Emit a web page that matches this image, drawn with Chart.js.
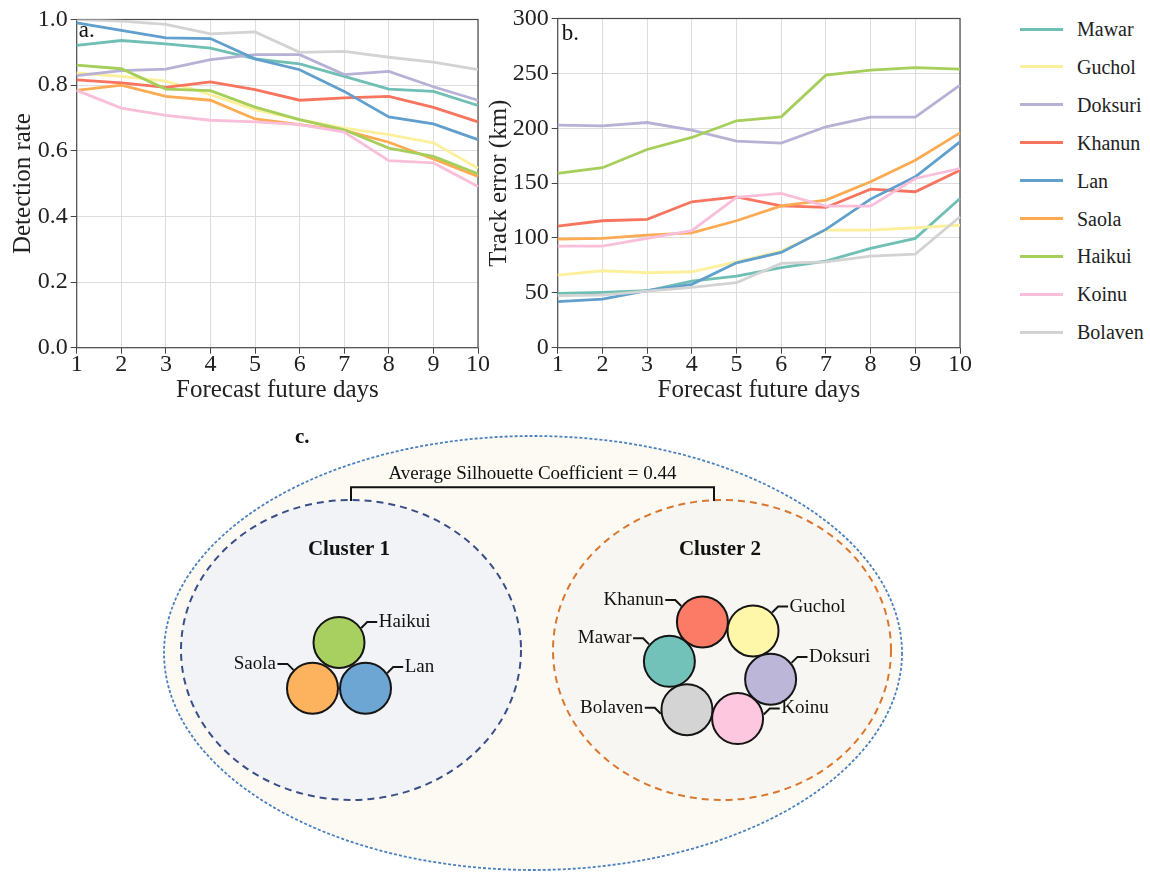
<!DOCTYPE html>
<html>
<head>
<meta charset="utf-8">
<script src="https://cdn.jsdelivr.net/npm/chart.js@4.4.1/dist/chart.umd.min.js"></script>
<style>
  html, body { margin: 0; padding: 0; background: #ffffff; }
  body { width: 1150px; height: 872px; position: relative; overflow: hidden;
         font-family: "Liberation Serif", "Times New Roman", serif; }
  canvas { position: absolute; }
  #legend { position: absolute; left: 1020px; top: 0; width: 130px; height: 360px; }
  .row { position: absolute; left: 0; height: 24px; width: 130px; }
  .row i { position: absolute; left: 0; top: 10.5px; width: 43px; height: 3px; }
  .row span { position: absolute; left: 57px; top: 0; line-height: 24px; font-size: 20px; color: #222; white-space: nowrap; }
</style>
</head>
<body>
<canvas id="rateChart" width="495" height="410" style="left:0;top:0"></canvas>
<canvas id="errChart" width="500" height="410" style="left:480px;top:0"></canvas>
<canvas id="clusterChart" width="780" height="452" style="left:150px;top:420px"></canvas>
<div id="legend"></div>
<script>
// ---- data -------------------------------------------------------------
const days = ['1', '2', '3', '4', '5', '6', '7', '8', '9', '10'];
const typhoons = ['Mawar', 'Guchol', 'Doksuri', 'Khanun', 'Lan', 'Saola', 'Haikui', 'Koinu', 'Bolaven'];

// detection rate per forecast day
const rateMawar   = [0.921, 0.936, 0.926, 0.913, 0.880, 0.865, 0.827, 0.788, 0.781, 0.738];
const rateGuchol  = [0.837, 0.827, 0.812, 0.771, 0.725, 0.695, 0.669, 0.649, 0.624, 0.547];
const rateDoksuri = [0.829, 0.844, 0.849, 0.878, 0.893, 0.893, 0.832, 0.842, 0.795, 0.754];
const rateKhanun  = [0.816, 0.807, 0.793, 0.810, 0.786, 0.754, 0.761, 0.766, 0.732, 0.688];
const rateLan     = [0.990, 0.967, 0.944, 0.942, 0.880, 0.847, 0.781, 0.703, 0.682, 0.634];
const rateSaola   = [0.784, 0.800, 0.766, 0.754, 0.697, 0.680, 0.662, 0.626, 0.575, 0.522];
const rateHaikui  = [0.861, 0.850, 0.788, 0.783, 0.733, 0.695, 0.664, 0.608, 0.583, 0.530];
const rateKoinu   = [0.784, 0.730, 0.708, 0.693, 0.688, 0.680, 0.657, 0.570, 0.563, 0.491];
const rateBolaven = [1.000, 0.995, 0.985, 0.956, 0.962, 0.900, 0.903, 0.885, 0.870, 0.847];

// track error (km) per forecast day
const errMawar   = [49.5, 50.4, 51.9, 60.7, 65.3, 72.9, 78.9, 90.5, 99.6, 136.0];
const errGuchol  = [66.2, 70.1, 68.3, 69.2, 78.3, 88.0, 107.2, 107.2, 109.3, 111.7];
const errDoksuri = [202.8, 202.2, 205.2, 198.3, 188.2, 186.4, 201.3, 210.1, 210.1, 239.2];
const errKhanun  = [110.8, 115.7, 116.9, 133.0, 137.5, 129.3, 127.8, 144.5, 142.1, 161.8];
const errLan     = [41.9, 44.3, 51.9, 57.7, 77.4, 86.8, 107.8, 135.4, 155.7, 187.6];
const errSaola   = [99.0, 99.6, 102.6, 104.7, 115.7, 129.3, 134.5, 151.2, 170.9, 195.8];
const errHaikui  = [158.8, 164.0, 180.6, 191.6, 206.8, 210.4, 248.4, 252.9, 255.3, 253.8];
const errKoinu   = [92.6, 92.6, 99.6, 106.6, 136.9, 140.6, 129.0, 129.0, 154.2, 163.3];
const errBolaven = [47.4, 48.0, 51.6, 55.0, 59.2, 76.8, 78.3, 83.5, 85.3, 119.3];

const rateTicks = [0, 0.2, 0.4, 0.6, 0.8, 1.0];
const errTicks = [0, 50, 100, 150, 200, 250, 300];

// clustering result
const cluster1 = ['Haikui', 'Lan', 'Saola'];
const cluster2 = ['Khanun', 'Guchol', 'Doksuri', 'Koinu', 'Bolaven', 'Mawar'];
const silhouette = 0.44;

// ---- styles -----------------------------------------------------------
const FONT = '"Liberation Serif", "Times New Roman", serif';
const colors = {
  Mawar: '#6fbfb4', Guchol: '#fdf09c', Doksuri: '#b6b1d5', Khanun: '#f7745f', Lan: '#619fcd',
  Saola: '#fdab52', Haikui: '#a5ce5b', Koinu: '#f9bfda', Bolaven: '#d3d3d3'
};
const circleFill = {
  Mawar: '#73c2b9', Guchol: '#fef6a8', Doksuri: '#bcb7d9', Khanun: '#fb7b67', Lan: '#6ea6d3',
  Saola: '#fdb25d', Haikui: '#a7d060', Koinu: '#fcc7df', Bolaven: '#d4d4d4'
};

const rateSeries = [rateMawar, rateGuchol, rateDoksuri, rateKhanun, rateLan, rateSaola, rateHaikui, rateKoinu, rateBolaven];
const errSeries = [errMawar, errGuchol, errDoksuri, errKhanun, errLan, errSaola, errHaikui, errKoinu, errBolaven];

// ---- legend ------------------------------------------------------------
const legend = document.getElementById('legend');
typhoons.forEach((name, k) => {
  const row = document.createElement('div');
  row.className = 'row';
  row.style.top = (29 + 37.9 * k - 12) + 'px';
  const sw = document.createElement('i');
  sw.style.background = colors[name];
  const tx = document.createElement('span');
  tx.textContent = name;
  row.appendChild(sw); row.appendChild(tx);
  legend.appendChild(row);
});

// ---- line panels -------------------------------------------------------
const framePlugin = {
  id: 'frame',
  beforeDatasetsDraw(chart) {
    const { ctx, chartArea: a } = chart;
    ctx.save();
    ctx.strokeStyle = '#4a4a4a';
    ctx.lineWidth = 1.2;
    ctx.strokeRect(a.left, a.top, a.right - a.left, a.bottom - a.top);
    ctx.restore();
  },
  afterDatasetsDraw(chart, args, opts) {
    const { ctx, chartArea: a } = chart;
    ctx.save();
    ctx.fillStyle = '#111';
    ctx.font = '23px ' + FONT;
    ctx.textBaseline = 'alphabetic';
    ctx.fillText(opts.letter, a.left + opts.dx, a.top + opts.dy);
    ctx.restore();
  }
};

function makeLineChart(id, series, ticks, yTitle, letter, geo) {
  const datasets = typhoons.map((name, i) => ({
    label: name,
    data: series[i],
    borderColor: colors[name],
    backgroundColor: colors[name],
    borderWidth: 2.8,
    pointRadius: 0,
    tension: 0,
    order: typhoons.length - i
  }));
  return new Chart(document.getElementById(id), {
    type: 'line',
    data: { labels: days, datasets },
    plugins: [framePlugin],
    options: {
      responsive: false,
      animation: false,
      devicePixelRatio: 1,
      events: [],
      layout: { padding: { top: geo.top, right: geo.right, left: 0, bottom: 0 } },
      plugins: {
        legend: { display: false },
        tooltip: { enabled: false },
        frame: { letter, dx: geo.ldx, dy: geo.ldy }
      },
      scales: {
        x: {
          type: 'category',
          offset: false,
          grid: { color: '#dedede', lineWidth: 1, tickColor: '#444', tickLength: 6 },
          border: { display: false },
          ticks: { color: '#222', font: { family: FONT, size: 24, lineHeight: 1 }, padding: -1, maxRotation: 0, autoSkip: false },
          title: { display: true, text: 'Forecast future days', color: '#222',
                   font: { family: FONT, size: 25, lineHeight: 1.2 }, padding: { top: 0, bottom: 5 } },
          afterFit(s) { s.height = geo.xh; }
        },
        y: {
          min: ticks[0],
          max: ticks[ticks.length - 1],
          afterBuildTicks(s) { s.ticks = ticks.map(v => ({ value: v })); },
          grid: { color: '#dedede', lineWidth: 1, tickColor: '#444', tickLength: 6 },
          border: { display: false },
          ticks: { color: '#222', font: { family: FONT, size: 24, lineHeight: 1 }, padding: 3,
                   callback: v => geo.dec ? Number(v).toFixed(geo.dec) : String(v) },
          title: { display: true, text: yTitle, color: '#222',
                   font: { family: FONT, size: 25, lineHeight: 1.2 }, padding: { top: geo.tpad, bottom: 0 } },
          afterFit(s) { s.width = geo.yw; }
        }
      }
    }
  });
}

makeLineChart('rateChart', rateSeries, rateTicks, 'Detection rate', 'a.',
  { top: 19.5, right: 17, xh: 62.3, yw: 76.7, tpad: 8, dec: 1, ldx: 2, ldy: 17 });
makeLineChart('errChart', errSeries, errTicks, 'Track error (km)', 'b.',
  { top: 18.5, right: 20, xh: 62.3, yw: 77.7, tpad: 4, dec: 0, ldx: 4, ldy: 21 });

// ---- cluster diagram ----------------------------------------------------
const outerShape = { cx: 533, cy: 653, rx: 369, ry: 217 };
const groups = [
  { members: cluster1, title: 'Cluster 1', cx: 351, cy: 650, rx: 170, ry: 150,
    stroke: '#3a4e88', fill: '#f1f3f7', ringX: 339, ringY: 673, ringR: 30.6, start: -90, titleY: 548 },
  { members: cluster2, title: 'Cluster 2', cx: 722, cy: 650, rx: 169, ry: 150,
    stroke: '#d9772e', fill: '#f7f6f3', ringX: 720, ringY: 670.3, ringR: 51.4, start: -110, titleY: 548 }
];
// direction (deg) where each label's leader leaves its circle
const leaderAngle = { Haikui: -33, Lan: -35, Saola: -136, Khanun: -143, Guchol: -44,
                      Mawar: -140, Doksuri: -38, Bolaven: 171, Koinu: -9 };
const BUBBLE_R = 25.5;

const bubbleSets = groups.map(g => {
  const step = 360 / g.members.length;
  return {
    data: g.members.map((name, i) => {
      const t = (g.start + i * step) * Math.PI / 180;
      return { x: g.ringX + g.ringR * Math.cos(t), y: g.ringY + g.ringR * Math.sin(t), r: BUBBLE_R, name };
    }),
    backgroundColor: g.members.map(n => circleFill[n]),
    borderColor: '#151515',
    borderWidth: 2
  };
});

function ellipse(ctx, cx, cy, rx, ry) {
  ctx.beginPath();
  ctx.ellipse(cx, cy, rx, ry, 0, 0, Math.PI * 2);
}

const diagramPlugin = {
  id: 'diagram',
  beforeDatasetsDraw(chart) {
    const { ctx, scales: { x, y } } = chart;
    const px = v => x.getPixelForValue(v), py = v => y.getPixelForValue(v);
    const sx = v => v * (x.width / (x.max - x.min)), sy = v => v * (y.height / (y.max - y.min));
    ctx.save();
    // enclosing ellipse
    ellipse(ctx, px(outerShape.cx), py(outerShape.cy), sx(outerShape.rx), sy(outerShape.ry));
    ctx.fillStyle = '#fdfaf4';
    ctx.fill();
    ctx.setLineDash([3, 2]);
    ctx.lineWidth = 1.8;
    ctx.strokeStyle = '#4a80bf';
    ctx.stroke();
    // cluster ellipses
    groups.forEach(g => {
      ellipse(ctx, px(g.cx), py(g.cy), sx(g.rx), sy(g.ry));
      ctx.fillStyle = g.fill;
      ctx.fill();
      ctx.setLineDash([7, 5]);
      ctx.lineWidth = 2;
      ctx.strokeStyle = g.stroke;
      ctx.stroke();
    });
    ctx.setLineDash([]);
    // bracket joining both clusters
    const g1 = groups[0], g2 = groups[1];
    const by = 487.3, bb = g1.cy - g1.ry + 1;
    ctx.beginPath();
    ctx.moveTo(px(g1.cx), py(bb));
    ctx.lineTo(px(g1.cx), py(by));
    ctx.lineTo(px(g2.cx - 8), py(by));
    ctx.lineTo(px(g2.cx - 8), py(bb));
    ctx.lineWidth = 2;
    ctx.strokeStyle = '#111';
    ctx.stroke();
    // texts
    ctx.fillStyle = '#111';
    ctx.textAlign = 'center';
    ctx.textBaseline = 'alphabetic';
    ctx.font = '19px ' + FONT;
    ctx.fillText('Average Silhouette Coefficient = ' + silhouette.toFixed(2), px((g1.cx + g2.cx - 8) / 2), py(479));
    ctx.font = 'bold 21px ' + FONT;
    groups.forEach(g => ctx.fillText(g.title, px(g.cx - 2), py(g.titleY + 7)));
    ctx.textAlign = 'left';
    ctx.font = 'bold 21px ' + FONT;
    ctx.fillText('c.', px(295), py(443));
    ctx.restore();
  },
  afterDatasetsDraw(chart) {
    const { ctx, scales: { x, y } } = chart;
    const px = v => x.getPixelForValue(v), py = v => y.getPixelForValue(v);
    ctx.save();
    ctx.strokeStyle = '#151515';
    ctx.lineWidth = 2;
    ctx.fillStyle = '#111';
    ctx.font = '19px ' + FONT;
    ctx.textBaseline = 'middle';
    bubbleSets.forEach(ds => ds.data.forEach(d => {
      const t = leaderAngle[d.name] * Math.PI / 180;
      const side = Math.cos(t) < 0 ? -1 : 1;
      const sx0 = d.x + (d.r + 1) * Math.cos(t), sy0 = d.y + (d.r + 1) * Math.sin(t);
      const ex = sx0 + side * 6, ey = sy0 - 6;
      const hx = ex + side * 10;
      ctx.beginPath();
      ctx.moveTo(px(sx0), py(sy0));
      ctx.lineTo(px(ex), py(ey));
      ctx.lineTo(px(hx), py(ey));
      ctx.stroke();
      ctx.textAlign = side < 0 ? 'right' : 'left';
      ctx.fillText(d.name, px(hx + side * 1.5), py(ey));
    }));
    ctx.restore();
  }
};

new Chart(document.getElementById('clusterChart'), {
  type: 'bubble',
  data: { datasets: bubbleSets },
  plugins: [diagramPlugin],
  options: {
    responsive: false,
    animation: false,
    devicePixelRatio: 1,
    events: [],
    layout: { padding: 0, autoPadding: false },
    plugins: { legend: { display: false }, tooltip: { enabled: false } },
    scales: {
      x: { type: 'linear', min: 150, max: 930, display: false },
      y: { type: 'linear', min: 420, max: 872, reverse: true, display: false }
    }
  }
});
</script>
</body>
</html>
